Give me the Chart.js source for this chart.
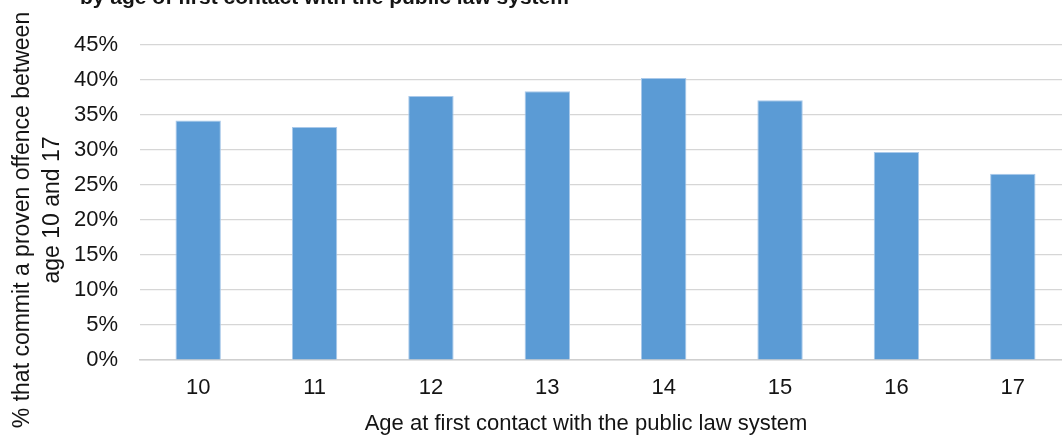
<!DOCTYPE html>
<html>
<head>
<meta charset="utf-8">
<script src="https://cdn.jsdelivr.net/npm/chart.js@4.4.1/dist/chart.umd.min.js"></script>
<style>
  html, body { margin: 0; padding: 0; background: #fff; overflow: hidden; }
  #wrap { width: 1071px; height: 444px; }
</style>
</head>
<body>
<div id="wrap"><canvas id="chart" width="1071" height="444"></canvas></div>
<script>
const ages = ["10", "11", "12", "13", "14", "15", "16", "17"];
const pctOffending = [34.2, 33.3, 37.7, 38.4, 40.3, 37.1, 29.7, 26.6];
const chartTitle = "by age of first contact with the public law system";
const xTitle = "Age at first contact with the public law system";
const yTitle = ["% that commit a proven offence between", "age 10 and 17"];

const FONT = "'Liberation Sans', Arial, sans-serif";
const TEXT = "#141414";

// titles are placed by hand so they sit where the office-style layout puts them
const titlesPlugin = {
  id: "titles",
  afterDraw(chart) {
    const ctx = chart.ctx;
    ctx.save();
    ctx.fillStyle = TEXT;
    ctx.textBaseline = "alphabetic";

    ctx.font = "bold 21px " + FONT;
    ctx.textAlign = "left";
    ctx.fillText(chartTitle, 80, 4);

    ctx.font = "22px " + FONT;
    ctx.textAlign = "center";
    ctx.fillText(xTitle, 586, 430);

    ctx.font = "23px " + FONT;
    ctx.translate(0, 217);
    ctx.rotate(-Math.PI / 2);
    ctx.textBaseline = "middle";
    ctx.fillText(yTitle[0], -3, 23);
    ctx.fillText(yTitle[1], 7, 53);
    ctx.restore();
  }
};

new Chart(document.getElementById("chart").getContext("2d"), {
  type: "bar",
  data: {
    labels: ages,
    datasets: [{
      data: pctOffending,
      backgroundColor: "#5b9bd5",
      borderColor: "#a9c9ea",
      borderWidth: 1,
      categoryPercentage: 1,
      barPercentage: 0.39
    }]
  },
  options: {
    responsive: false,
    animation: false,
    layout: { padding: { top: 45, right: 0, bottom: 0, left: 0 } },
    plugins: {
      legend: { display: false },
      tooltip: { enabled: false }
    },
    scales: {
      x: {
        afterFit: (s) => { s.height = 84; },
        grid: { display: false, drawTicks: false },
        border: { display: true, color: "#cfcfcf", width: 1.5 },
        ticks: { color: TEXT, font: { family: FONT, size: 22 }, padding: 15 }
      },
      y: {
        min: 0,
        max: 45,
        afterFit: (s) => { s.width = 140; },
        grid: { color: "#d6d6d6", lineWidth: 1.2, drawTicks: false },
        border: { display: false },
        ticks: {
          stepSize: 5,
          padding: 22,
          color: TEXT,
          font: { family: FONT, size: 22 },
          callback: (v) => v + "%"
        }
      }
    }
  },
  plugins: [titlesPlugin]
});
</script>
</body>
</html>
